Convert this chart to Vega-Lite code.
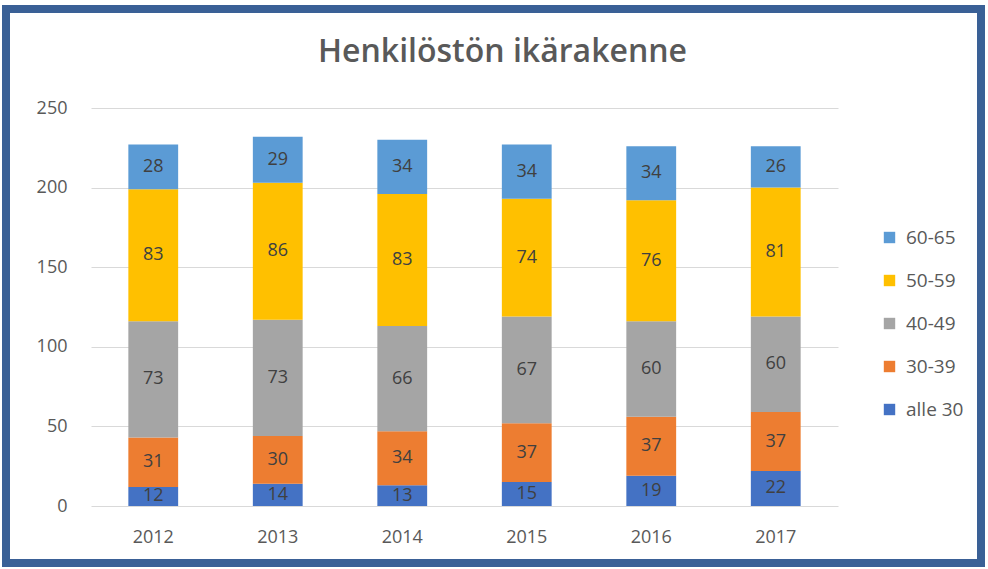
{
  "$schema": "https://vega.github.io/schema/vega-lite/v6.json",
  "autosize": "none",
  "width": 975,
  "height": 554,
  "padding": {"left": 6, "top": 9, "right": 7, "bottom": 6},
  "background": "white",
  "config": {
    "font": "Open Sans",
    "view": {"stroke": "#3A6096", "strokeWidth": 8, "fill": "white"}
  },
  "title": {
    "text": "Henkilöstön ikärakenne",
    "orient": "top",
    "anchor": "middle",
    "frame": "group",
    "offset": -60,
    "dx": 9,
    "fontSize": 32,
    "fontWeight": 600,
    "color": "#595959",
    "font": "Open Sans"
  },
  "data": {
    "values": [
      {"vuosi": "2012", "ryhma": "alle 30", "jarj": 1, "n": 12},
      {"vuosi": "2012", "ryhma": "30-39", "jarj": 2, "n": 31},
      {"vuosi": "2012", "ryhma": "40-49", "jarj": 3, "n": 73},
      {"vuosi": "2012", "ryhma": "50-59", "jarj": 4, "n": 83},
      {"vuosi": "2012", "ryhma": "60-65", "jarj": 5, "n": 28},
      {"vuosi": "2013", "ryhma": "alle 30", "jarj": 1, "n": 14},
      {"vuosi": "2013", "ryhma": "30-39", "jarj": 2, "n": 30},
      {"vuosi": "2013", "ryhma": "40-49", "jarj": 3, "n": 73},
      {"vuosi": "2013", "ryhma": "50-59", "jarj": 4, "n": 86},
      {"vuosi": "2013", "ryhma": "60-65", "jarj": 5, "n": 29},
      {"vuosi": "2014", "ryhma": "alle 30", "jarj": 1, "n": 13},
      {"vuosi": "2014", "ryhma": "30-39", "jarj": 2, "n": 34},
      {"vuosi": "2014", "ryhma": "40-49", "jarj": 3, "n": 66},
      {"vuosi": "2014", "ryhma": "50-59", "jarj": 4, "n": 83},
      {"vuosi": "2014", "ryhma": "60-65", "jarj": 5, "n": 34},
      {"vuosi": "2015", "ryhma": "alle 30", "jarj": 1, "n": 15},
      {"vuosi": "2015", "ryhma": "30-39", "jarj": 2, "n": 37},
      {"vuosi": "2015", "ryhma": "40-49", "jarj": 3, "n": 67},
      {"vuosi": "2015", "ryhma": "50-59", "jarj": 4, "n": 74},
      {"vuosi": "2015", "ryhma": "60-65", "jarj": 5, "n": 34},
      {"vuosi": "2016", "ryhma": "alle 30", "jarj": 1, "n": 19},
      {"vuosi": "2016", "ryhma": "30-39", "jarj": 2, "n": 37},
      {"vuosi": "2016", "ryhma": "40-49", "jarj": 3, "n": 60},
      {"vuosi": "2016", "ryhma": "50-59", "jarj": 4, "n": 76},
      {"vuosi": "2016", "ryhma": "60-65", "jarj": 5, "n": 34},
      {"vuosi": "2017", "ryhma": "alle 30", "jarj": 1, "n": 22},
      {"vuosi": "2017", "ryhma": "30-39", "jarj": 2, "n": 37},
      {"vuosi": "2017", "ryhma": "40-49", "jarj": 3, "n": 60},
      {"vuosi": "2017", "ryhma": "50-59", "jarj": 4, "n": 81},
      {"vuosi": "2017", "ryhma": "60-65", "jarj": 5, "n": 26}
    ]
  },
  "transform": [
    {"stack": "n", "groupby": ["vuosi"], "sort": [{"field": "jarj", "order": "ascending"}], "as": ["y0", "y1"]},
    {"calculate": "(datum.y0 + datum.y1) / 2", "as": "ymid"}
  ],
  "encoding": {
    "x": {
      "field": "vuosi",
      "type": "ordinal",
      "title": null,
      "scale": {"range": [85, 832], "paddingInner": 0.6, "paddingOuter": 0.3},
      "axis": {
        "orient": "bottom",
        "offset": -57,
        "domain": false,
        "ticks": false,
        "labelPadding": 22,
        "labelFontSize": 18,
        "labelColor": "#595959",
        "labelAngle": 0,
        "grid": false
      }
    }
  },
  "layer": [
    {
      "mark": {"type": "bar"},
      "encoding": {
        "y": {
          "field": "y0",
          "type": "quantitative",
          "title": null,
          "scale": {"domain": [0, 250], "range": [497, 99], "nice": false, "zero": true},
          "axis": {
            "orient": "left",
            "offset": -84,
            "values": [0, 50, 100, 150, 200, 250],
            "domain": false,
            "ticks": false,
            "labelPadding": 23,
            "labelFontSize": 18,
            "labelColor": "#595959",
            "grid": true,
            "gridColor": "#D9D9D9",
            "gridWidth": 1
          }
        },
        "y2": {"field": "y1"},
        "color": {
          "field": "ryhma",
          "type": "nominal",
          "scale": {
            "domain": ["60-65", "50-59", "40-49", "30-39", "alle 30"],
            "range": ["#5B9BD5", "#FFC000", "#A5A5A5", "#ED7D31", "#4472C4"]
          },
          "legend": {
            "title": null,
            "orient": "none",
            "legendX": 874,
            "legendY": 219,
            "symbolType": "square",
            "symbolSize": 130,
            "symbolStrokeWidth": 0,
            "labelFontSize": 19,
            "labelColor": "#595959",
            "rowPadding": 23,
            "labelOffset": 7
          }
        }
      }
    },
    {
      "mark": {"type": "text", "fontSize": 18, "color": "#404040", "baseline": "middle", "align": "center"},
      "encoding": {
        "y": {"field": "ymid", "type": "quantitative"},
        "text": {"field": "n", "type": "quantitative"}
      }
    }
  ]
}
